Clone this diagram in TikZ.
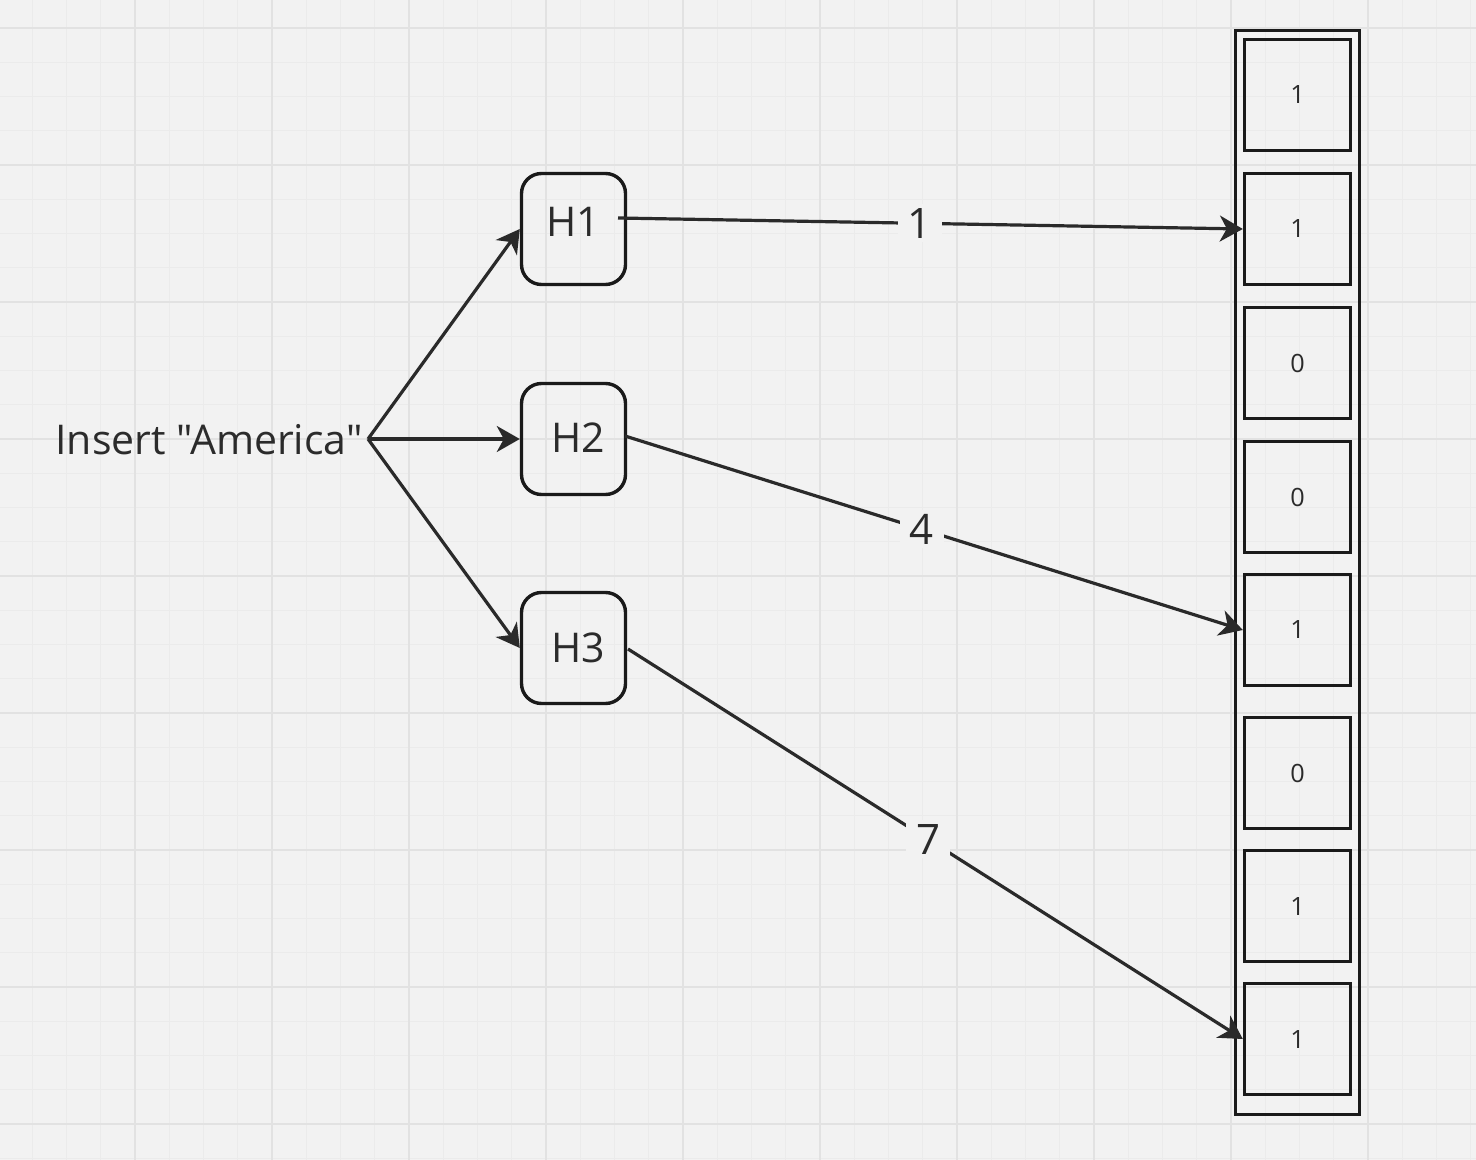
\documentclass[tikz,border=0pt]{standalone}
\usepackage{fontspec}
\setmainfont{Open Sans}[Ligatures=TeXOff]
\usetikzlibrary{arrows.meta}
\definecolor{bg}{HTML}{F2F2F2}
\definecolor{gridmaj}{HTML}{E2E2E2}
\definecolor{gridmin}{HTML}{EBEBEB}
\definecolor{ink}{HTML}{1A1A1A}
\definecolor{conncol}{HTML}{2A2A2A}
\definecolor{txt}{HTML}{2B2B2B}
\tikzset{
  hbox/.style={draw=ink, line width=1.7pt, rounded corners=10pt, minimum width=52pt, minimum height=55.5pt, inner sep=0pt, text=txt, font=\fontsize{20.5}{24}\selectfont},
  cell/.style={draw=ink, line width=1.7pt, minimum width=53pt, minimum height=55.5pt, inner sep=0pt, text=txt, font=\fontsize{12.6}{15}\selectfont},
  outerbox/.style={draw=ink, line width=1.7pt, minimum width=62pt, minimum height=542pt, inner sep=0pt},
  conn/.style={draw=conncol, line width=1.6pt, -{Stealth[length=11.5pt, width=13pt, inset=3.5pt]}},
  elabel/.style={fill=bg, text=txt, inner xsep=5pt, inner ysep=2pt, font=\fontsize{21}{24}\selectfont},
  maintext/.style={text=txt, inner sep=0pt, font=\fontsize{20.5}{24}\selectfont}
}
\begin{document}
\begin{tikzpicture}[x=0.5pt,y=-0.5pt]
\useasboundingbox (0,0) rectangle (1476,1160);
\fill[bg] (0,0) rectangle (1476,1160);
% grid
\foreach \i in {0,...,43} {
  \pgfmathsetmacro{\xx}{-2+34.25*\i}
  \draw[gridmin, line width=0.7pt] (\xx,0) -- (\xx,1160);
}
\foreach \i in {0,...,34} {
  \pgfmathsetmacro{\yy}{-6.25+34.25*\i}
  \draw[gridmin, line width=0.7pt] (0,\yy) -- (1476,\yy);
}
\foreach \i in {0,...,10} {
  \pgfmathsetmacro{\xx}{-2+137*\i}
  \draw[gridmaj, line width=1pt] (\xx,0) -- (\xx,1160);
}
\foreach \i in {0,...,8} {
  \pgfmathsetmacro{\yy}{28+137*\i}
  \draw[gridmaj, line width=1pt] (0,\yy) -- (1476,\yy);
}
% bit array
\node[outerbox] (arr) at (1297.5,572.5) {};
\node[cell] (c1) at (1297.5,95) {1};
\node[cell] (c2) at (1297.5,229) {1};
\node[cell] (c3) at (1297.5,363) {0};
\node[cell] (c4) at (1297.5,497) {0};
\node[cell] (c5) at (1297.5,630) {1};
\node[cell] (c6) at (1297.5,773) {0};
\node[cell] (c7) at (1297.5,906) {1};
\node[cell] (c8) at (1297.5,1039) {1};
% hash boxes
\node[hbox] (h1) at (573.5,229) {\raisebox{7.5pt}{H1}\hspace{1.5pt}};
\node[hbox] (h2) at (573.5,439) {\hspace{4.5pt}\raisebox{1pt}{H2}};
\node[hbox] (h3) at (573.5,648) {\hspace{4.5pt}H3};
% input text
\node[maintext, anchor=east] (ins) at (363,440) {Insert "America"};
\coordinate (fan) at (368,439);
\coordinate (h1out) at (618,218);
\coordinate (h2out) at (625,436);
\coordinate (h3out) at (628,649);
% connectors
\draw[conn] (fan) -- (h1.west);
\draw[conn] (fan) -- (h2.west);
\draw[conn] (fan) -- (h3.west);
\draw[conn] (h1out) -- node[elabel, pos=0.483] (l1) {1} (c2.west);
\draw[conn] (h2out) -- node[elabel, pos=0.48] (l4) {4} (c5.west);
\draw[conn] (h3out) -- node[elabel, pos=0.488] (l7) {7} (c8.west);
\end{tikzpicture}
\end{document}
